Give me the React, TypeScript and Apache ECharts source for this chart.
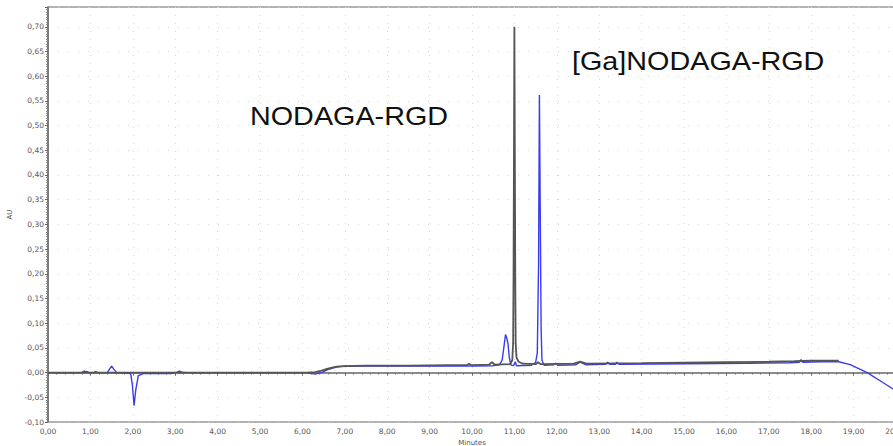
import React, { useEffect, useRef } from "react";
import * as echarts from "echarts";

// Black trace: NODAGA-RGD (minutes, AU)
const blackTrace: [number, number][] = [
  [0, 0], [2.0, 0], [4.0, 0], [6.1, 0], [6.3, 0.001], [6.45, 0.004], [6.6, 0.008], [6.8, 0.012],
  [7.0, 0.013], [7.5, 0.014], [8.5, 0.014], [9.5, 0.015], [9.88, 0.015], [9.93, 0.018],
  [9.98, 0.015], [10.4, 0.016], [10.47, 0.021], [10.54, 0.016], [10.9, 0.017], [10.95, 0.025],
  [10.97, 0.06], [10.98, 0.2], [10.99, 0.45], [11.0, 0.7], [11.01, 0.45], [11.02, 0.2],
  [11.03, 0.06], [11.05, 0.03], [11.1, 0.022], [11.2, 0.018], [11.5, 0.017], [11.56, 0.021],
  [11.62, 0.017], [12.4, 0.018], [12.55, 0.022], [12.7, 0.018], [14.0, 0.019], [16.0, 0.021],
  [17.0, 0.022], [17.6, 0.023], [18.0, 0.024], [18.65, 0.024],
];

// Blue trace: [Ga]NODAGA-RGD (minutes, AU)
const blueTrace: [number, number][] = [
  [0, 0], [0.8, 0], [0.85, 0.003], [0.92, 0.002], [0.97, 0], [1.08, 0], [1.12, 0.002],
  [1.18, 0], [1.4, 0], [1.45, 0.007], [1.5, 0.013], [1.55, 0.007], [1.62, 0], [1.95, -0.002],
  [1.99, -0.025], [2.03, -0.067], [2.07, -0.035], [2.13, -0.006], [2.25, -0.002], [2.9, -0.002],
  [3.05, 0.001], [3.1, 0.003], [3.16, 0.001], [3.25, 0], [6.1, 0], [6.3, -0.003], [6.45, 0],
  [6.6, 0.006], [6.8, 0.011], [7.0, 0.013], [8.0, 0.013], [9.0, 0.013], [10.0, 0.013],
  [10.5, 0.014], [10.65, 0.016], [10.71, 0.025], [10.75, 0.05], [10.79, 0.077], [10.82, 0.07],
  [10.85, 0.058], [10.88, 0.03], [10.92, 0.015], [10.98, 0.014], [11.02, 0.022], [11.05, 0.014],
  [11.4, 0.015], [11.5, 0.02], [11.54, 0.04], [11.57, 0.22], [11.59, 0.562], [11.61, 0.32],
  [11.63, 0.09], [11.65, 0.025], [11.7, 0.015], [11.93, 0.016], [11.97, 0.019], [12.02, 0.015],
  [12.45, 0.016], [12.55, 0.021], [12.68, 0.016], [13.15, 0.017], [13.2, 0.021], [13.25, 0.017],
  [13.38, 0.017], [13.42, 0.021], [13.47, 0.017], [15.0, 0.018], [16.5, 0.019], [17.5, 0.02],
  [17.72, 0.021], [17.76, 0.026], [17.8, 0.021], [18.2, 0.022], [18.65, 0.022], [18.92, 0.016],
  [19.32, 0.0], [19.69, -0.02], [20.0, -0.037],
];

const annotations = [
  { text: "NODAGA-RGD", x: 250, y: 117 },
  { text: "[Ga]NODAGA-RGD", x: 572, y: 62 },
];

const fmt = (v: number) => (Math.abs(v) < 1e-9 ? 0 : v).toFixed(2).replace(".", ",");

export default function App() {
  const ref = useRef<HTMLDivElement>(null);
  useEffect(() => {
    if (!ref.current) return;
    const chart = echarts.init(ref.current, undefined, { renderer: "svg" });
    const axisFont = { fontFamily: "DejaVu Sans", fontSize: 7.5, color: "#555" };
    chart.setOption({
      animation: false,
      backgroundColor: "#ffffff",
      grid: {
        left: 48,
        right: -3,
        top: 7,
        bottom: 24,
        outerBoundsMode: "none",
        containLabel: false,
        show: true,
        borderColor: "#666",
        borderWidth: 1,
        backgroundColor: "transparent",
      },
      xAxis: {
        type: "value",
        min: 0,
        max: 20,
        interval: 1,
        name: "Minutes",
        nameLocation: "middle",
        nameGap: 16,
        nameTextStyle: { fontFamily: "DejaVu Sans", fontSize: 7, color: "#555" },
        axisLine: { show: true, lineStyle: { color: "#666", width: 1.5 } },
        axisTick: { show: true, length: 3, lineStyle: { color: "#666" } },
        minorTick: { show: true, splitNumber: 5, length: 2, lineStyle: { color: "#777" } },
        axisLabel: { ...axisFont, margin: 5, formatter: fmt },
        splitLine: { show: true, lineStyle: { color: "#d4d4d4", type: [1, 7], width: 1 } },
      },
      yAxis: {
        type: "value",
        min: -0.1,
        max: 0.74,
        interval: 0.05,
        name: "AU",
        nameLocation: "middle",
        nameRotate: 90,
        nameGap: 22,
        nameTextStyle: { fontFamily: "DejaVu Sans", fontSize: 7, color: "#555" },
        axisLine: { show: true, lineStyle: { color: "#666", width: 1.5 } },
        axisTick: { show: true, length: 3, lineStyle: { color: "#666" } },
        minorTick: { show: true, splitNumber: 10, length: 2, lineStyle: { color: "#888" } },
        axisLabel: { ...axisFont, margin: 4, formatter: fmt, showMaxLabel: false },
        splitLine: { show: true, lineStyle: { color: "#d4d4d4", type: [1, 9], width: 1 } },
      },
      series: [
        {
          name: "[Ga]NODAGA-RGD",
          type: "line",
          data: blueTrace,
          showSymbol: false,
          z: 2,
          lineStyle: { color: "#3a3aee", width: 1.4 },
        },
        {
          name: "NODAGA-RGD",
          type: "line",
          data: blackTrace,
          showSymbol: false,
          z: 3,
          lineStyle: { color: "#555555", width: 1.8 },
        },
      ],
      graphic: annotations.map((a) => ({
        type: "text",
        x: a.x,
        y: a.y,
        scaleX: 1.15,
        z: 10,
        style: {
          text: a.text,
          fontFamily: "Liberation Sans",
          fontSize: 25,
          fill: "#111",
          align: "left",
          verticalAlign: "middle",
        },
      })),
    });
    return () => chart.dispose();
  }, []);
  return (
    <div style={{ position: "fixed", left: 0, top: 0, width: 893, height: 446, overflow: "hidden", background: "#fff" }}>
      <div ref={ref} style={{ width: 893, height: 446 }} />
    </div>
  );
}
